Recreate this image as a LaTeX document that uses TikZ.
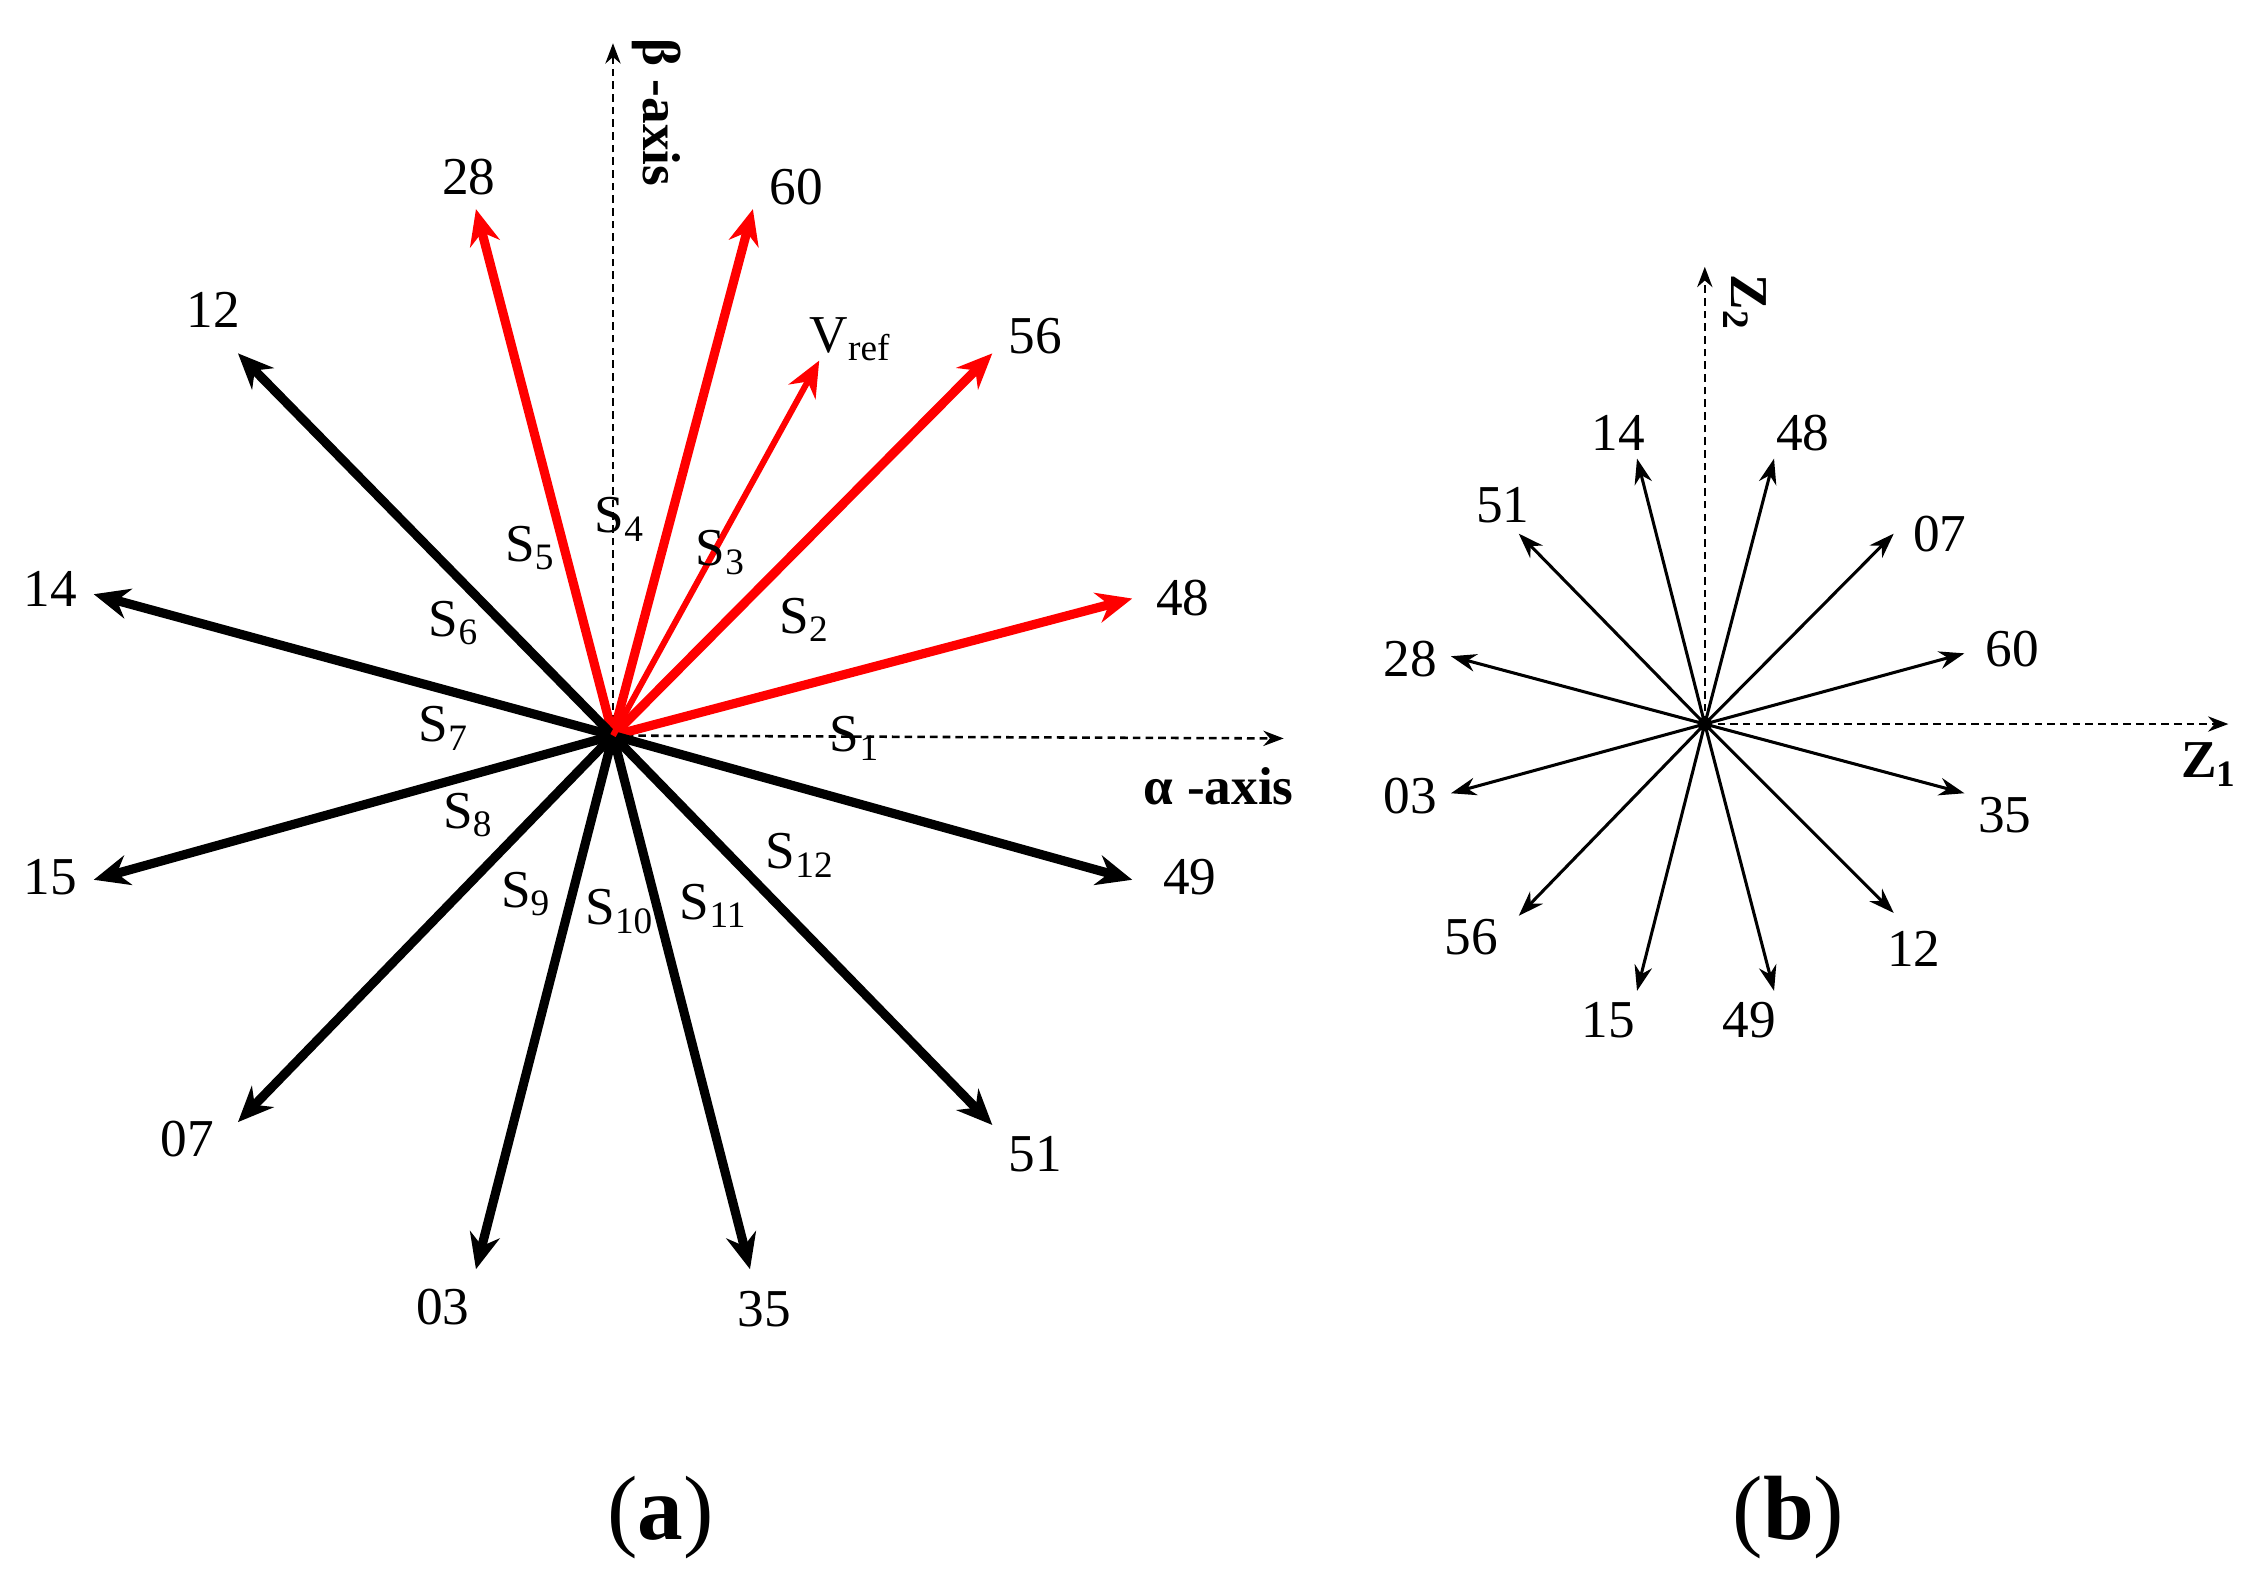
\documentclass[tikz,border=0pt]{standalone}
\usepackage{fontspec}
\setmainfont{Liberation Serif}
\usetikzlibrary{arrows.meta}
\begin{document}
\begin{tikzpicture}[x=0.01cm,y=-0.01cm,>={Stealth[length=7pt,width=6pt]}]
  %define styles
  \tikzset{
    axis/.style={dash pattern=on 1.5pt off 1pt,line width=0.5pt,->,>={Stealth[length=4pt,width=3pt]}},
    bigvec/.style={line width=1.8pt,->},
    redvec/.style={bigvec,red},
    smallvec/.style={line width=0.6pt,->,>={Stealth[length=5pt,width=3.5pt]}},
    lbl/.style={font=\fontsize{10.5}{10.5}\selectfont,inner sep=0pt},
    axlbl/.style={font=\bfseries\fontsize{10.5}{10.5}\selectfont,inner sep=0pt},
    caption/.style={font=\fontsize{18}{18}\selectfont,inner sep=0pt},}
  \useasboundingbox (0,0) rectangle (1560,1098);
  %panel (a)
  \coordinate (oa) at (425,510);
  \coordinate (betaend) at (425,30);
  \coordinate (alphaend) at (890,512);
  \draw[axis] (oa) -- (betaend);
  \draw[axis] (oa) -- (alphaend);
  \node[axlbl,rotate=-90] (betalbl) at (455,78) {β -axis};
  \node[axlbl] (alphalbl) at (845,545) {α -axis};
  \foreach \t/\x/\y/\lx/\ly/\st in {
      48/785/415/820/415/redvec, 56/688/245/718/233/redvec,
      60/522/145/552/130/redvec, 28/330/145/325/123/redvec,
      12/165/245/148/215/bigvec, 14/65/412/35/408/bigvec,
      15/65/610/35/608/bigvec, 07/165/778/130/790/bigvec,
      03/330/880/307/906/bigvec, 35/520/880/530/908/bigvec,
      51/688/780/718/800/bigvec, 49/785/610/825/608/bigvec}{
    \coordinate (v\t) at (\x,\y);
    \draw[\st] (oa) -- (v\t);
    \node[lbl] (v\t lbl) at (\lx,\ly) {\t};
  }
  \coordinate (vref) at (568,250);
  \draw[red,line width=1.2pt,->] (oa) -- (vref);
  \node[lbl] (vreflbl) at (590,235) {V\textsubscript{ref}};
  \foreach \i/\x/\y in {1/593/512,2/558/430,3/500/383,4/430/360,5/368/380,6/315/432,
      7/308/505,8/325/565,9/365/620,10/430/632,11/495/628,12/555/593}{
    \node[lbl] (s\i) at (\x,\y) {S\textsubscript{\i}};
  }
  \node[caption] (capa) at (458,1052) {(\textbf{a})};
  %panel (b)
  \coordinate (ob) at (1182,502);
  \coordinate (ztwoend) at (1182,185);
  \coordinate (zoneend) at (1545,502);
  \draw[axis] (ob) -- (ztwoend);
  \draw[axis] (ob) -- (zoneend);
  \node[axlbl,rotate=-90] (ztwolbl) at (1210,210) {Z\textsubscript{2}};
  \node[axlbl] (zonelbl) at (1532,530) {Z\textsubscript{1}};
  \foreach \t/\x/\y/\lx/\ly in {
      14/1135/318/1122/300, 48/1230/318/1250/300, 51/1053/370/1042/350,
      07/1313/370/1345/370, 28/1006/455/978/457, 60/1362/453/1395/450,
      03/1006/550/978/552, 35/1362/550/1390/565, 56/1053/635/1020/650,
      12/1313/633/1327/658, 15/1135/687/1115/707, 49/1230/687/1213/707}{
    \coordinate (w\t) at (\x,\y);
    \draw[smallvec] (ob) -- (w\t);
    \node[lbl] (w\t lbl) at (\lx,\ly) {\t};
  }
  \fill (ob) circle (5);
  \node[caption] (capb) at (1240,1052) {(\textbf{b})};
\end{tikzpicture}
\end{document}
